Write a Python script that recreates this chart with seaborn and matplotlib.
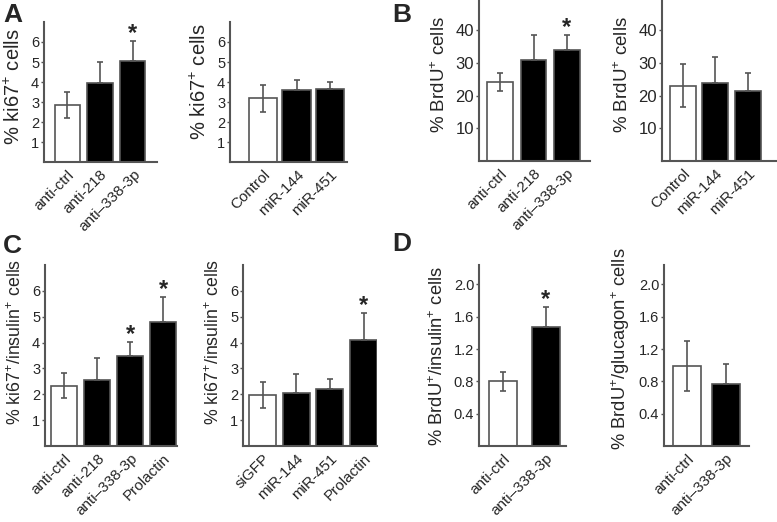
import numpy as np
import pandas as pd
import matplotlib
matplotlib.use("Agg")
import matplotlib.pyplot as plt
import matplotlib.transforms as mtransforms
import seaborn as sns

# ---- data ----
# A: ki67+ cells
a1_labels = ['anti-ctrl', 'anti-218', 'anti–338-3p']
a1_vals = [2.85, 3.93, 5.05]
a1_err = [0.65, 1.09, 1.02]
a1_star = [False, False, True]

a2_labels = ['Control', 'miR-144', 'miR-451']
a2_vals = [3.18, 3.58, 3.65]
a2_err = [0.66, 0.52, 0.36]
a2_star = [False, False, False]

# B: BrdU+ cells
b1_labels = ['anti-ctrl', 'anti-218', 'anti–338-3p']
b1_vals = [24.1, 30.8, 34.0]
b1_err = [2.8, 7.9, 4.5]
b1_star = [False, False, True]

b2_labels = ['Control', 'miR-144', 'miR-451']
b2_vals = [23.1, 24.0, 21.4]
b2_err = [6.7, 8.0, 5.6]
b2_star = [False, False, False]

# C: ki67+/insulin+ cells
c1_labels = ['anti-ctrl', 'anti-218', 'anti–338-3p', 'Prolactin']
c1_vals = [2.33, 2.55, 3.50, 4.80]
c1_err = [0.49, 0.86, 0.52, 0.98]
c1_star = [False, False, True, True]

c2_labels = ['siGFP', 'miR-144', 'miR-451', 'Prolactin']
c2_vals = [1.98, 2.05, 2.22, 4.10]
c2_err = [0.51, 0.75, 0.38, 1.04]
c2_star = [False, False, False, True]

# D: BrdU+/insulin+ and BrdU+/glucagon+ cells
d1_labels = ['anti-ctrl', 'anti–338-3p']
d1_vals = [0.80, 1.47]
d1_err = [0.12, 0.25]
d1_star = [False, True]

d2_labels = ['anti-ctrl', 'anti–338-3p']
d2_vals = [0.99, 0.77]
d2_err = [0.31, 0.24]
d2_star = [False, False]

W, H = 777, 522
GREY = '#555555'

sns.set_style('ticks')
plt.rcParams['font.family'] = ['Liberation Sans', 'DejaVu Sans']
plt.rcParams['mathtext.fontset'] = 'custom'
plt.rcParams['mathtext.rm'] = 'Liberation Sans'
plt.rcParams['mathtext.it'] = 'Liberation Sans'

fig = plt.figure(figsize=(W / 100, H / 100), dpi=100)


def panel(box, labels, vals, errs, stars, ylabel, ylim, yticks, xlim, width,
          fmt='{:g}', lab_size=14.5, lab_y=0.55, tick_size=10.5):
    x0, y0, x1, y1 = box
    ax = fig.add_axes([x0 / W, 1 - y1 / H, (x1 - x0) / W, (y1 - y0) / H])
    df = pd.DataFrame({'group': labels, 'value': vals})
    colors = {lab: ('white' if i == 0 else 'black') for i, lab in enumerate(labels)}
    sns.barplot(data=df, x='group', y='value', hue='group', palette=colors,
                legend=False, width=width, edgecolor=GREY, linewidth=1.2,
                errorbar=None, ax=ax)
    pos = np.arange(len(labels))
    # black bars only show the upper whisker
    lower = [e if i == 0 else 0 for i, e in enumerate(errs)]
    ax.errorbar(pos, vals, yerr=[lower, errs], fmt='none', ecolor=GREY,
                elinewidth=1.2, capsize=2.5, capthick=1.2, zorder=5)
    for i, s in enumerate(stars):
        if s:
            ax.annotate('*', (i, vals[i] + errs[i]), xytext=(0, -3),
                        textcoords='offset points', ha='center', va='bottom',
                        fontsize=17, fontweight='bold')
    ax.set_xlim(*xlim)
    ax.set_ylim(*ylim)
    ax.set_yticks(yticks)
    ax.set_yticklabels([fmt.format(t) for t in yticks])
    ax.set_xlabel('')
    ax.set_ylabel(ylabel, fontsize=lab_size, labelpad=5)
    ax.yaxis.label.set_y(lab_y)
    ax.set_xticks(pos)
    ax.set_xticklabels(labels, rotation=45, ha='right', rotation_mode='anchor')
    shift = mtransforms.ScaledTranslation(7 / 100, 0, fig.dpi_scale_trans)
    for lab in ax.get_xticklabels():
        lab.set_transform(lab.get_transform() + shift)
    ax.tick_params(axis='x', length=0, labelsize=11, pad=4)
    ax.tick_params(axis='y', length=2, width=1, color=GREY, labelsize=tick_size, pad=1.5)
    for side in ['top', 'right']:
        ax.spines[side].set_visible(False)
    for side in ['left', 'bottom']:
        ax.spines[side].set_color(GREY)
        ax.spines[side].set_linewidth(1.5)
    return ax


ki67 = '% ki67$^{+}$ cells'
brdu = '% BrdU$^{+}$ cells'
ki67ins = '% ki67$^{+}$/insulin$^{+}$ cells'

panel((44, 22, 157, 162), a1_labels, a1_vals, a1_err, a1_star, ki67,
      (0, 7), [1, 2, 3, 4, 5, 6], (-0.7, 2.73), 0.76, lab_y=0.54)
panel((230, 22, 347, 162), a2_labels, a2_vals, a2_err, a2_star, ki67,
      (0, 7), [1, 2, 3, 4, 5, 6], (-0.98, 2.5), 0.85, lab_y=0.57)
panel((479, 1, 590, 161), b1_labels, b1_vals, b1_err, b1_star, brdu,
      (0, 49), [10, 20, 30, 40], (-0.64, 2.7), 0.77, lab_size=13.5, lab_y=0.54,
      tick_size=12)
panel((662, 1, 776, 161), b2_labels, b2_vals, b2_err, b2_star, brdu,
      (0, 49), [10, 20, 30, 40], (-0.64, 2.87), 0.8, lab_size=13.5, lab_y=0.54,
      tick_size=12)
panel((45, 265, 177, 446), c1_labels, c1_vals, c1_err, c1_star, ki67ins,
      (0, 7), [1, 2, 3, 4, 5, 6], (-0.58, 3.42), 0.79, lab_size=12.8, lab_y=0.575)
panel((243, 265, 377, 446), c2_labels, c2_vals, c2_err, c2_star, ki67ins,
      (0, 7), [1, 2, 3, 4, 5, 6], (-0.58, 3.4), 0.8, lab_size=12.8, lab_y=0.575)
panel((479, 265, 566, 446), d1_labels, d1_vals, d1_err, d1_star,
      '% BrdU$^{+}$/insulin$^{+}$ cells',
      (0, 2.24), [0.4, 0.8, 1.2, 1.6, 2.0], (-0.57, 1.48), 0.66, '{:.1f}',
      lab_size=13.2, lab_y=0.5)
panel((664, 265, 749, 446), d2_labels, d2_vals, d2_err, d2_star,
      '% BrdU$^{+}$/glucagon$^{+}$ cells',
      (0, 2.24), [0.4, 0.8, 1.2, 1.6, 2.0], (-0.6, 1.6), 0.74, '{:.1f}',
      lab_size=13.2, lab_y=0.54)

for letter, (px, py) in {'A': (3, 3), 'B': (392, 3), 'C': (3, 234), 'D': (392, 232)}.items():
    fig.text(px / W, 1 - py / H, letter, fontsize=19, fontweight='bold',
             ha='left', va='top')

fig.savefig('out.png', dpi=100)
